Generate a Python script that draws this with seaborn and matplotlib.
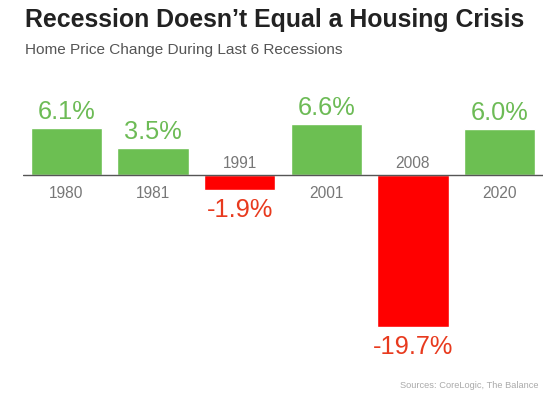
import matplotlib
matplotlib.use("Agg")
import matplotlib.pyplot as plt
import seaborn as sns
import pandas as pd

# --- data ---
years = ["1980", "1981", "1991", "2001", "2008", "2020"]
changes = [6.1, 3.5, -1.9, 6.6, -19.7, 6.0]
value_labels = ["6.1%", "3.5%", "-1.9%", "6.6%", "-19.7%", "6.0%"]

title = "Recession Doesn\u2019t Equal a Housing Crisis"
subtitle = "Home Price Change During Last 6 Recessions"
source = "Sources: CoreLogic, The Balance"

GREEN = "#6cbf52"
RED = "#ff0000"
GREEN_TXT = "#6dbb56"
RED_TXT = "#e83a1e"

sns.set_theme(style="white")
plt.rcParams["font.family"] = ["Liberation Sans", "DejaVu Sans"]

df = pd.DataFrame({"year": years, "change": changes})
bar_colors = [GREEN if v >= 0 else RED for v in changes]

fig = plt.figure(figsize=(5.6, 3.98), dpi=100)
ax = fig.add_axes([23 / 560, 0.1347, 520 / 560, 0.580])

sns.barplot(data=df, x="year", y="change", hue="year", palette=bar_colors,
            width=0.82, saturation=1, legend=False, ax=ax)

ax.set_ylim(-22, 8)
ax.set_xlim(-0.5, len(years) - 0.5)
ax.axhline(0, color="#555555", lw=1.0, zorder=3)
ax.axis("off")

# value labels on the bars, year labels on the other side of the zero line
for i, (v, lab) in enumerate(zip(changes, value_labels)):
    if v >= 0:
        ax.annotate(lab, (i, v), xytext=(0, 6.5), textcoords="offset points",
                    ha="center", va="baseline", fontsize=18.3, color=GREEN_TXT)
        ax.annotate(years[i], (i, 0), xytext=(0, -13), textcoords="offset points",
                    ha="center", va="center", fontsize=11.2, color="#777777")
    else:
        ax.annotate(lab, (i, v), xytext=(0, -14.4), textcoords="offset points",
                    ha="center", va="center", fontsize=18.3, color=RED_TXT)
        ax.annotate(years[i], (i, 0), xytext=(0, 8.6), textcoords="offset points",
                    ha="center", va="center", fontsize=11.2, color="#777777")

fig.text(25 / 560, 1 - 27 / 398, title, fontsize=17.9, fontweight="bold",
         color="#222222", ha="left", va="baseline")
fig.text(25 / 560, 1 - 54 / 398, subtitle, fontsize=11.1,
         color="#555555", ha="left", va="baseline")
fig.text(538 / 560, 1 - 386 / 398, source, fontsize=6.7,
         color="#aaaaaa", ha="right", va="center")

fig.savefig("out.png", dpi=100, facecolor="white")
